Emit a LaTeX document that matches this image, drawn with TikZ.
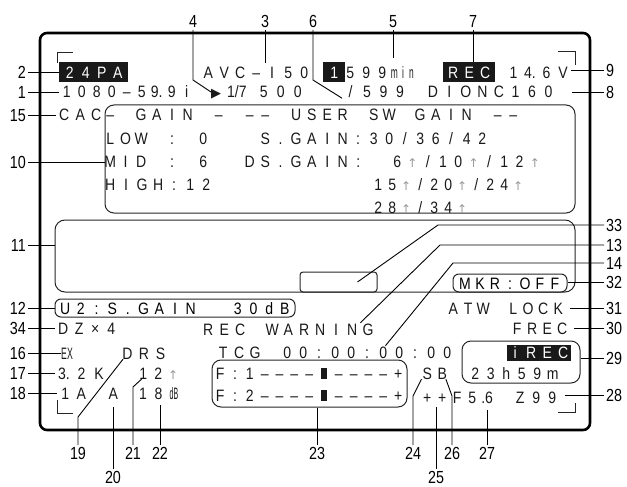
\documentclass[tikz,border=0pt]{standalone}
\usepackage{fontspec}
\usepackage{graphicx}
\setmainfont{Liberation Sans}
\newfontfamily\dispfamily[FakeStretch=0.85]{Liberation Sans}
\newfontfamily\lblfamily[FakeStretch=0.82]{Liberation Sans}
\newfontfamily\symfamily{DejaVu Sans}
\usetikzlibrary{positioning}

\newcommand\dfont{\dispfamily\fontsize{16.5}{18}\selectfont}
\newcommand\up{\textcolor{black!40}{\symfamily\fontsize{12}{12}\selectfont ↑}}
\newcommand\blk{\rule{6.5pt}{11.5pt}}
\newcommand\sq[2][0.6]{\scalebox{#1}[1]{#2}}
\newlength\cellw
\makeatletter
\newcommand\cells[2][16pt]{\setlength\cellw{#1}\cells@next#2\cells@stop}
\def\cells@next#1{\def\cells@tmp{#1}\ifx\cells@tmp\cells@stopmark\else\makebox[\cellw]{#1}\expandafter\cells@next\fi}
\def\cells@stopmark{\cells@stop}
\makeatother

\tikzset{
  disp/.style={anchor=west,inner sep=0pt,text height=12pt,text depth=0pt,font=\dfont,text=black!90},
  inv/.style={disp,fill=black!90,text=white,minimum height=20pt},
  panel/.style={draw=black!85,line width=1pt,rounded corners=9pt,inner sep=0pt},
  dispbox/.style={panel,font=\dfont,text height=12pt,text depth=0pt},
  num/.style={inner sep=2pt,text height=12.5pt,text depth=0pt,font=\lblfamily\fontsize{17.5}{18}\selectfont},
  lead/.style={line width=0.9pt},
  bezel/.style={line width=2.6pt,rounded corners=7pt},
  cornerln/.style={line width=1pt,black!85}
}

\begin{document}
\begin{tikzpicture}[x=1pt,y=-1pt]
  \useasboundingbox (0,0) rectangle (627,487);
  \draw[bezel] (40,33) rectangle (590,430);
  \draw[cornerln] (57,63) |- (73,53);
  \draw[cornerln] (558,52) -| (575,65);
  \draw[cornerln] (57,400) |- (73,413);
  \draw[cornerln] (558,412) -| (575,403);

  \node[panel,minimum width=470pt,minimum height=108pt] (gainbox) at (340,159) {};
  \node[panel,rounded corners=10pt,minimum width=520pt,minimum height=72pt] (viewbox) at (315,256) {};
  \node[panel,rounded corners=3pt,minimum width=77pt,minimum height=20pt] (mk) at (338.5,282) {};
  \node[dispbox,rounded corners=6pt,minimum width=114pt,minimum height=18pt] (mkr) at (510,283) {\cells[15pt]{MKR:OFF}};
  \node[dispbox,rounded corners=6pt,minimum width=240pt,minimum height=18pt] (ubox) at (175,308) {\cells[15.7pt]{U2:S.GAIN~~30dB}};
  \node[panel,minimum width=195pt,minimum height=47pt] (fbox) at (309.5,383.5) {};
  \node[panel,minimum width=118pt,minimum height=42pt] (irecbox) at (521,362) {};

  \node[inv,inner xsep=2.5pt] (fmt) at (59,72) {\cells{24PA}};
  \node[disp] (codec) at (200,72) {\cells{AVC–I50}};
  \node[inv,minimum width=22pt] (slot) at (323,72) {1};
  \node[disp] (remain) at (342,72) {\cells{599}\cells[8.5pt]{{\sq m}{\sq i}{\sq n}}};
  \node[inv,inner xsep=2pt] (rec) at (443,72) {\cells{REC}};
  \node[disp] (volt) at (505,72) {\cells[16.5pt]{1{4.}6V}};

  \node[disp] (sysfreq) at (59,92) {\cells[15pt]{1080–5{9.}9i}};
  \node[disp,font=\symfamily\fontsize{13}{13}\selectfont] (tri) at (211,92) {▶};
  \node[disp] (shutter) at (227,92) {\makebox[28pt][l]{1/7}\cells[17pt]{500}};
  \node[disp] (total) at (342,92) {\cells[16.5pt]{/599~DIONC160}};

  \node[disp] (cac) at (56,115) {\cells{CAC}};
  \node[disp] (g1) at (102.25,115) {\cells[15.5pt]{–~GAIN~–~––~USER~SW~GAIN~––}};
  \node[disp] (g2) at (102.25,138) {\cells[15.5pt]{LOW~:~0~~~S.GAIN:30/36/42}};
  \node[disp] (g3) at (102.25,161) {\cells[15.5pt]{MID~:~6~~DS.GAIN:}};
  \node[disp] (g3v) at (389.35,161) {\cells[15.3pt]{6\up/10\up/12\up}};
  \node[disp] (g4) at (102,184) {\cells{HIGH:12}};
  \node[disp] (g4v) at (371,184) {\cells[14pt]{15\up/20\up/24\up}};
  \node[disp] (g5v) at (371,207) {\cells[14pt]{28\up/34\up}};

  \node[disp] (atw) at (445.5,308) {\cells[15pt]{ATW~LOCK}};
  \node[disp] (dz) at (55,328) {\cells{DZ×4}};
  \node[disp] (recwarn) at (200,329) {\cells{REC~WARNING}};
  \node[disp] (frec) at (509.5,328) {\cells[15pt]{FREC}};

  \node[disp] (ex) at (61,353) {\sq[0.62]{EX}};
  \node[disp] (drs) at (119,353) {\cells[16.5pt]{DRS}};
  \node[disp] (tcg) at (215,352) {\cells{TCG~00:00:00:00}};
  \node[inv,minimum height=16pt,inner xsep=0pt] (irec) at (507,352.5) {\cells{iREC}};
  \node[disp] (rtime) at (467.25,373) {\cells[15.5pt]{23h59m}};

  \node[disp] (ctemp) at (55,373) {\cells[17.5pt]{{3.}2K}};
  \node[disp] (drsval) at (135.5,373) {\cells[15pt]{12\up}};
  \node[disp] (f1) at (212.6,373) {\cells[14.83pt]{F:1––––\blk––––+}};
  \node[disp] (f2) at (212.6,395) {\cells[14.83pt]{F:2––––\blk––––+}};
  \node[disp] (sb) at (419.5,373) {\cells[15pt]{SB}};

  \node[disp] (filt) at (57,393) {\cells{1A}};
  \node[disp] (nd) at (105,393) {\cells{A}};
  \node[disp] (gainval) at (135,393) {\cells[15.5pt]{18{\sq[0.5]{dB}}}};
  \node[disp] (pp) at (419.5,397) {\cells[15pt]{++}};
  \node[disp] (iris) at (449.5,397) {\cells[15pt]{F5{.6}}};
  \node[disp] (zoom) at (512,397) {\cells{Z99}};

  \foreach \t/\y in {2/72,1/92,15/115,10/162,11/245,12/308,34/328,16/353,17/373,18/393}
    \node[num,anchor=east] (n\t) at (28,\y) {\t};
  \foreach \t/\y in {9/70,8/92,33/225,13/245,14/263,32/282,31/308,30/328,29/358,28/395}
    \node[num,anchor=west] (n\t) at (604,\y) {\t};
  \foreach \t/\x in {4/193,3/265,6/313,5/393,7/473}
    \node[num,anchor=south] (n\t) at (\x,30) {\t};
  \foreach \t/\x in {19/78,21/133,22/160,23/317,24/413,26/452,27/487}
    \node[num,anchor=north] (n\t) at (\x,445) {\t};
  \foreach \t/\x in {20/113,25/436}
    \node[num,anchor=north] (n\t) at (\x,469) {\t};

  \draw[lead] (n2.east) -- (fmt.west);
  \draw[lead] (n1.east) -- (sysfreq.west);
  \draw[lead] (n15.east) -- (cac.west);
  \draw[lead] (n10.east) -- (n10.east -| gainbox.west);
  \draw[lead] (n11.east) -- (n11.east -| viewbox.west);
  \draw[lead] (n12.east) -- (n12.east -| ubox.west);
  \draw[lead] (n34.east) -- (dz.west);
  \draw[lead] (n16.east) -- (ex.west);
  \draw[lead] (n17.east) -- (ctemp.west);
  \draw[lead] (n18.east) -- (filt.west);

  \draw[lead] (n4.south) -- ++(0,50) -- (tri.west);
  \draw[lead,shorten >=3pt] (n3.south) -- (n3.south |- codec.north);
  \draw[lead] (n6.south) -- ++(0,50) -- (total.south west);
  \draw[lead,shorten >=8pt] (n5.south) -- (n5.south |- remain.north);
  \draw[lead] (n7.south) -- (n7.south |- rec.north);

  \draw[lead] (n9.west) -- (n9.west -| volt.east);
  \draw[lead,shorten >=15pt] (n8.west) -- (n8.west -| total.east);
  \draw[lead] (n33.west) -- ++(-166,0) -- ([xshift=19pt]mk.center);
  \draw[lead] (n13.west) -- ++(-164,0) -- ([xshift=-16pt]recwarn.north east);
  \draw[lead] (n14.west) -- ++(-151,0) -- ([xshift=-70pt]tcg.north east);
  \draw[lead] (n32.west) -- (n32.west -| mkr.east);
  \draw[lead,shorten >=4pt] (n31.west) -- (n31.west -| atw.east);
  \draw[lead,shorten >=4pt] (n30.west) -- (n30.west -| frec.east);
  \draw[lead] (n29.west) -- (n29.west -| irecbox.east);
  \draw[lead,shorten >=5pt] (n28.west) -- (n28.west -| zoom.east);

  \draw[lead] (n19.north) -- ++(0,-28) -- ([xshift=4pt]drs.south west);
  \draw[lead,shorten >=8pt] (n20.north) -- (n20.north |- nd.south);
  \draw[lead] (n21.north) -- ++(0,-58) -- ([xshift=6pt]drsval.south west);
  \draw[lead,shorten >=6pt] (n22.north) -- (n22.north |- gainval.south);
  \draw[lead] (n23.north) -- (n23.north |- fbox.south);
  \draw[lead] (n24.north) -- ++(0,-49) -- ([xshift=2pt]sb.south west);
  \draw[lead,shorten >=4pt] (n25.north) -- (n25.north |- pp.south);
  \draw[lead] (n26.north) -- ++(0,-49) -- ([xshift=-4pt]sb.south east);
  \draw[lead,shorten >=7pt] (n27.north) -- (n27.north |- iris.south);
\end{tikzpicture}
\end{document}
